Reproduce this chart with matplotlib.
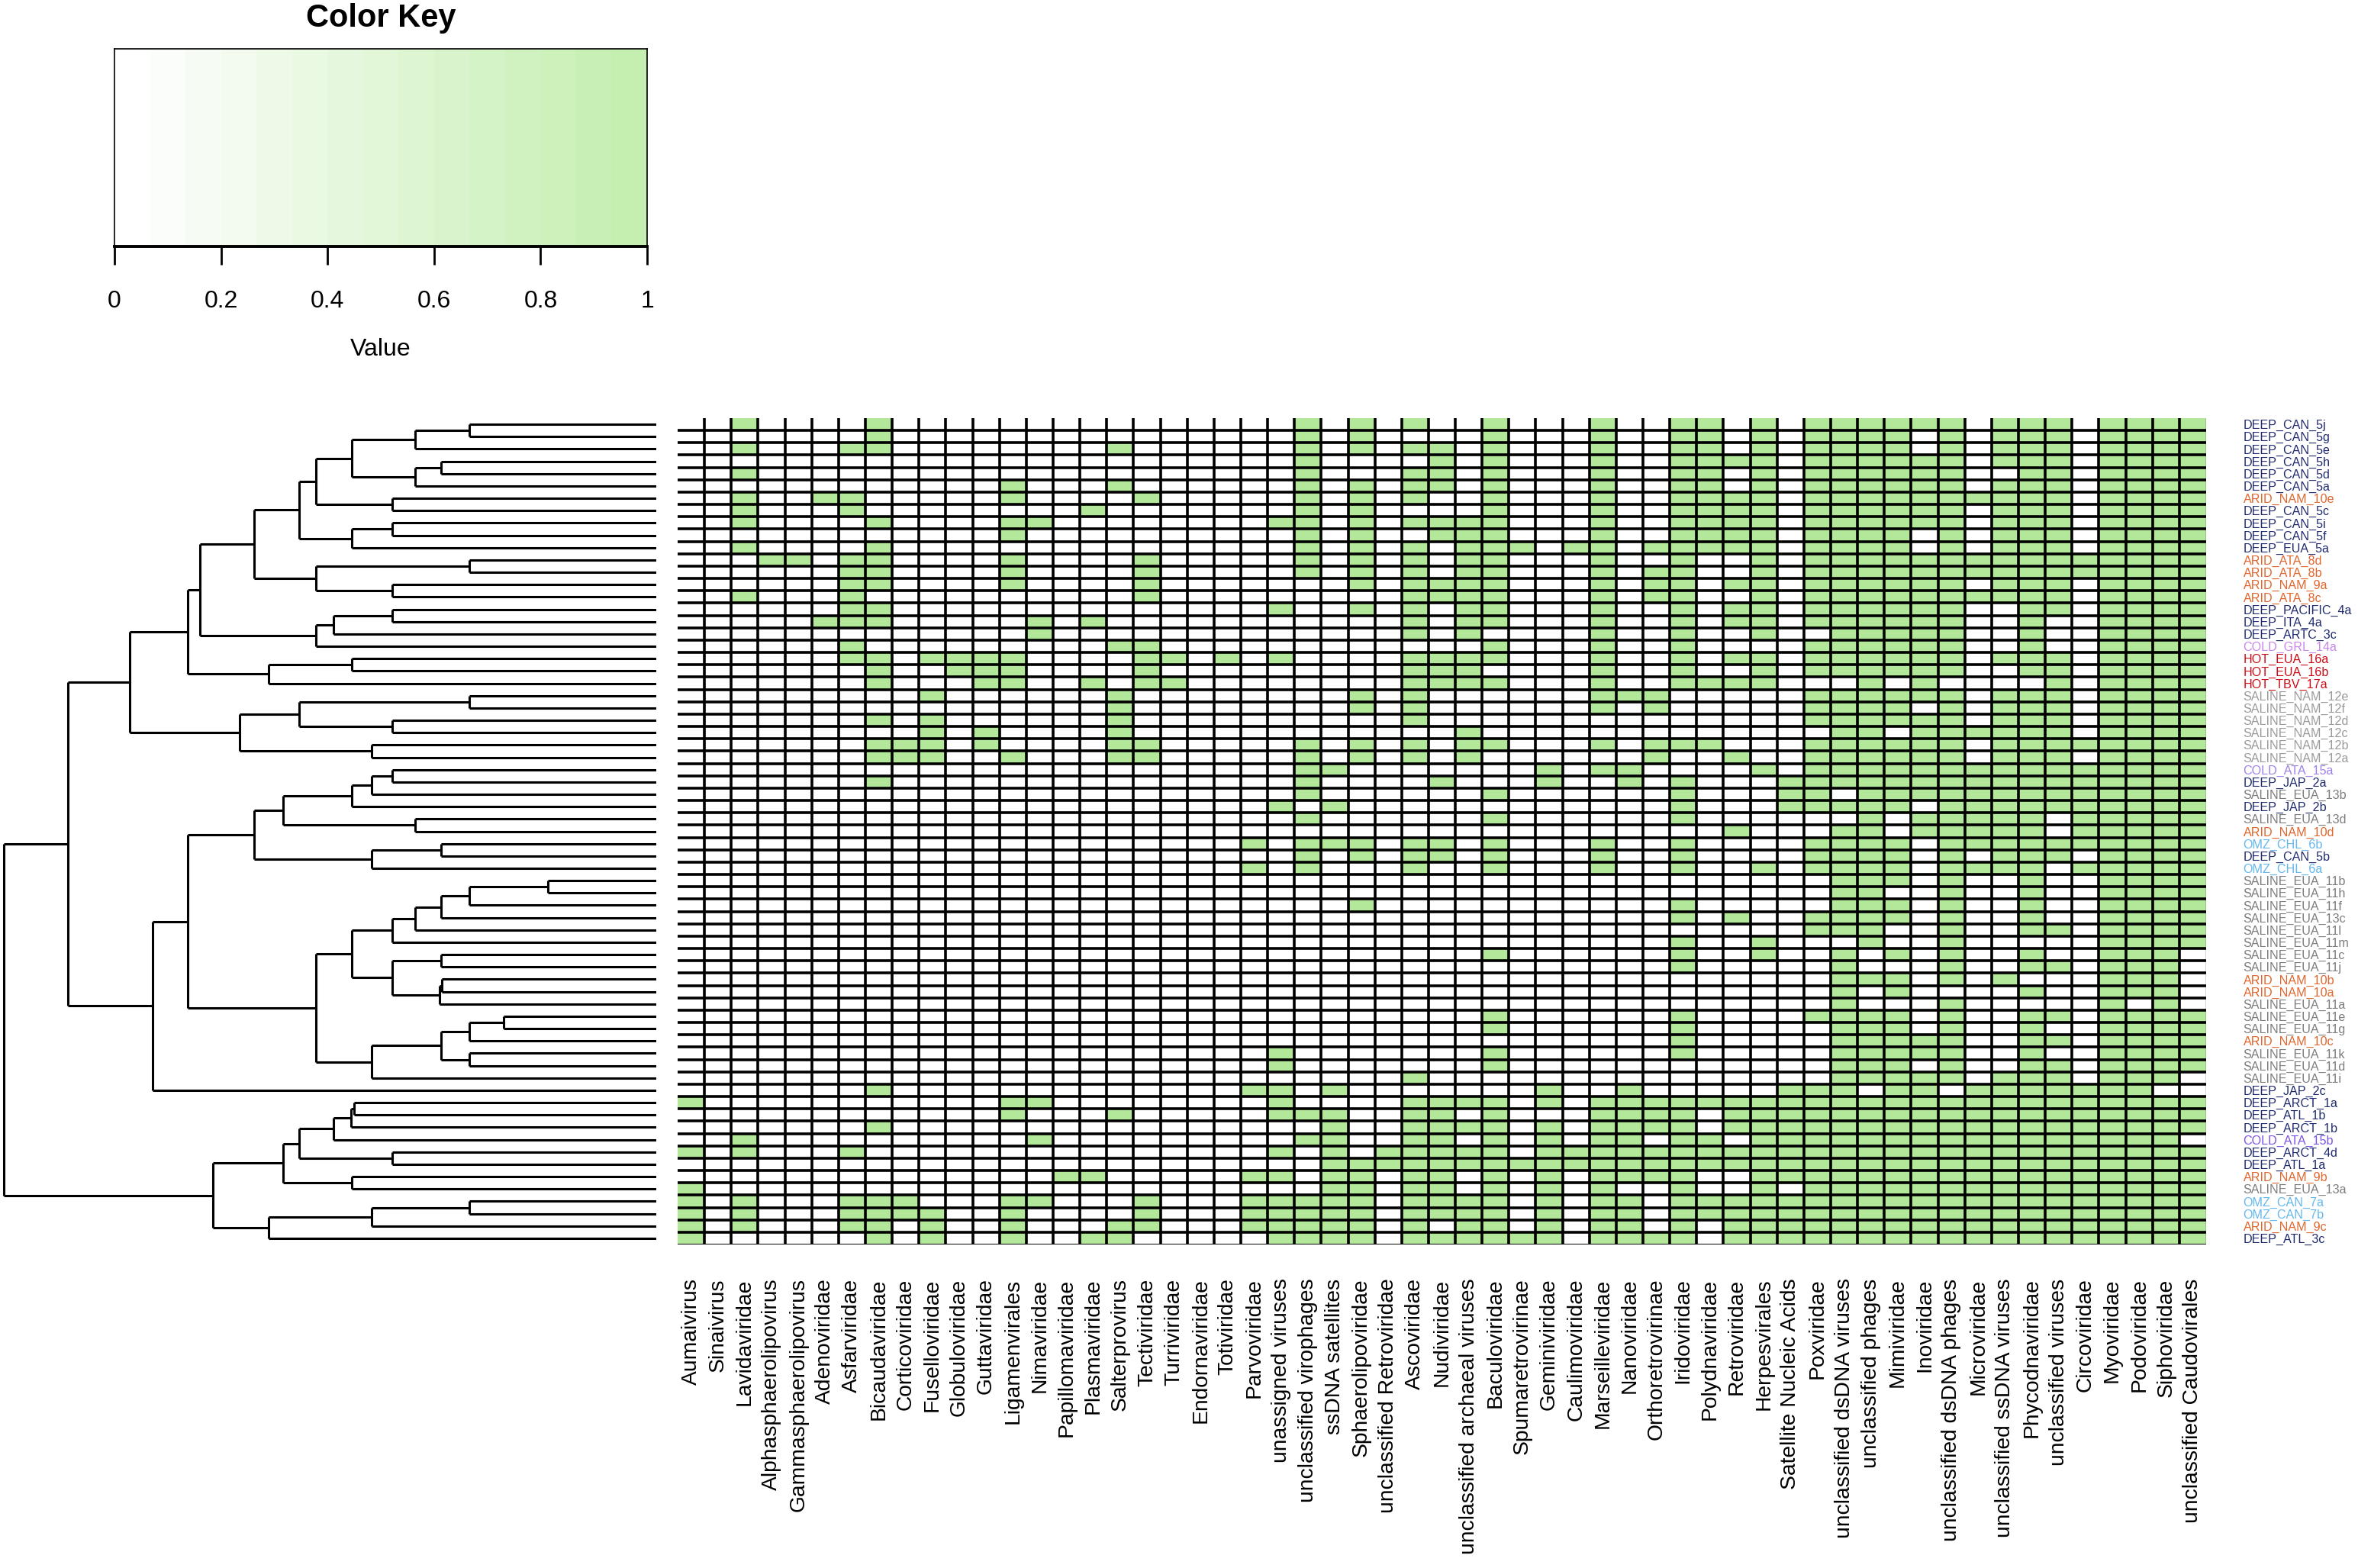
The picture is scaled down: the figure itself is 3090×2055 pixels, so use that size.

# Mapa de calor de presencia/ausencia de familias virales con dendrograma de muestras
import matplotlib.pyplot as plt
from matplotlib.colors import ListedColormap, LinearSegmentedColormap
import numpy as np

plt.rcParams['font.family'] = ['Liberation Sans', 'DejaVu Sans']

# Muestras (filas) en el orden del dendrograma
muestras = ["DEEP_CAN_5j", "DEEP_CAN_5g", "DEEP_CAN_5e", "DEEP_CAN_5h", "DEEP_CAN_5d",
            "DEEP_CAN_5a", "ARID_NAM_10e", "DEEP_CAN_5c", "DEEP_CAN_5i", "DEEP_CAN_5f",
            "DEEP_EUA_5a", "ARID_ATA_8d", "ARID_ATA_8b", "ARID_NAM_9a", "ARID_ATA_8c",
            "DEEP_PACIFIC_4a", "DEEP_ITA_4a", "DEEP_ARTC_3c", "COLD_GRL_14a", "HOT_EUA_16a",
            "HOT_EUA_16b", "HOT_TBV_17a", "SALINE_NAM_12e", "SALINE_NAM_12f", "SALINE_NAM_12d",
            "SALINE_NAM_12c", "SALINE_NAM_12b", "SALINE_NAM_12a", "COLD_ATA_15a", "DEEP_JAP_2a",
            "SALINE_EUA_13b", "DEEP_JAP_2b", "SALINE_EUA_13d", "ARID_NAM_10d", "OMZ_CHL_6b",
            "DEEP_CAN_5b", "OMZ_CHL_6a", "SALINE_EUA_11b", "SALINE_EUA_11h", "SALINE_EUA_11f",
            "SALINE_EUA_13c", "SALINE_EUA_11l", "SALINE_EUA_11m", "SALINE_EUA_11c", "SALINE_EUA_11j",
            "ARID_NAM_10b", "ARID_NAM_10a", "SALINE_EUA_11a", "SALINE_EUA_11e", "SALINE_EUA_11g",
            "ARID_NAM_10c", "SALINE_EUA_11k", "SALINE_EUA_11d", "SALINE_EUA_11i", "DEEP_JAP_2c",
            "DEEP_ARCT_1a", "DEEP_ATL_1b", "DEEP_ARCT_1b", "COLD_ATA_15b", "DEEP_ARCT_4d",
            "DEEP_ATL_1a", "ARID_NAM_9b", "SALINE_EUA_13a", "OMZ_CAN_7a", "OMZ_CAN_7b",
            "ARID_NAM_9c", "DEEP_ATL_3c"]

# Grupos virales (columnas)
virus = ["Aumaivirus", "Sinaivirus", "Lavidaviridae", "Alphasphaerolipovirus",
         "Gammasphaerolipovirus", "Adenoviridae", "Asfarviridae", "Bicaudaviridae",
         "Corticoviridae", "Fuselloviridae", "Globuloviridae", "Guttaviridae", "Ligamenvirales",
         "Nimaviridae", "Papillomaviridae", "Plasmaviridae", "Salterprovirus", "Tectiviridae",
         "Turriviridae", "Endornaviridae", "Totiviridae", "Parvoviridae", "unassigned viruses",
         "unclassified virophages", "ssDNA satellites", "Sphaerolipoviridae",
         "unclassified Retroviridae", "Ascoviridae", "Nudiviridae", "unclassified archaeal viruses",
         "Baculoviridae", "Spumaretrovirinae", "Geminiviridae", "Caulimoviridae", "Marseilleviridae",
         "Nanoviridae", "Orthoretrovirinae", "Iridoviridae", "Polydnaviridae", "Retroviridae",
         "Herpesvirales", "Satellite Nucleic Acids", "Poxviridae", "unclassified dsDNA viruses",
         "unclassified phages", "Mimiviridae", "Inoviridae", "unclassified dsDNA phages",
         "Microviridae", "unclassified ssDNA viruses", "Phycodnaviridae", "unclassified viruses",
         "Circoviridae", "Myoviridae", "Podoviridae", "Siphoviridae", "unclassified Caudovirales"]

# Columnas (empezando en 1) con presencia en cada muestra
presencia = [
    [3, 8, 24, 26, 28, 31, 35, 38, 39, 41, 43, 44, 45, 46, 47, 48, 50, 51, 52, 54, 55, 56, 57],
    [8, 24, 26, 31, 35, 38, 39, 41, 43, 44, 45, 46, 48, 50, 51, 52, 54, 55, 56, 57],
    [3, 7, 8, 17, 24, 26, 28, 29, 31, 35, 38, 39, 41, 43, 44, 45, 46, 48, 50, 51, 52, 54, 55, 56, 57],
    [24, 29, 31, 35, 38, 39, 40, 41, 43, 44, 45, 46, 47, 48, 50, 51, 52, 54, 55, 56, 57],
    [3, 24, 28, 29, 31, 35, 38, 39, 41, 43, 44, 45, 46, 47, 48, 51, 52, 54, 55, 56, 57],
    [13, 17, 24, 26, 28, 29, 31, 35, 38, 39, 41, 43, 44, 45, 46, 47, 48, 50, 51, 52, 54, 55, 56, 57],
    [3, 6, 7, 13, 18, 24, 26, 28, 31, 35, 38, 39, 40, 41, 43, 44, 45, 46, 47, 48, 49, 50, 51, 52, 54, 55, 56, 57],
    [3, 7, 16, 24, 26, 31, 35, 38, 39, 40, 41, 43, 44, 45, 46, 47, 48, 50, 51, 52, 54, 55, 56, 57],
    [3, 8, 13, 14, 23, 24, 26, 28, 29, 30, 31, 35, 38, 39, 40, 41, 43, 44, 45, 46, 47, 48, 50, 51, 52, 54, 55, 56, 57],
    [13, 24, 26, 29, 30, 31, 35, 38, 39, 40, 41, 43, 44, 45, 46, 48, 50, 51, 52, 54, 55, 56, 57],
    [3, 8, 24, 26, 28, 30, 31, 32, 34, 35, 37, 38, 39, 40, 41, 43, 44, 45, 46, 48, 50, 51, 52, 54, 55, 56, 57],
    [4, 5, 7, 8, 13, 18, 24, 26, 28, 30, 31, 35, 38, 41, 43, 44, 45, 46, 47, 48, 49, 50, 51, 52, 53, 54, 55, 56, 57],
    [7, 8, 13, 18, 24, 26, 28, 30, 31, 35, 37, 38, 41, 43, 44, 45, 46, 47, 48, 49, 50, 51, 52, 53, 54, 55, 56, 57],
    [7, 8, 13, 18, 26, 28, 29, 30, 31, 35, 37, 38, 40, 41, 43, 44, 45, 46, 47, 48, 50, 51, 52, 54, 55, 56, 57],
    [3, 7, 18, 28, 29, 30, 31, 35, 37, 38, 41, 43, 44, 45, 46, 47, 48, 49, 50, 51, 52, 54, 55, 56, 57],
    [7, 8, 23, 26, 28, 30, 31, 35, 38, 40, 41, 43, 44, 45, 46, 47, 48, 51, 52, 54, 55, 56, 57],
    [6, 7, 8, 14, 16, 28, 30, 31, 35, 38, 40, 41, 43, 44, 45, 46, 47, 48, 51, 54, 55, 56, 57],
    [14, 28, 30, 35, 38, 41, 44, 45, 46, 47, 48, 51, 54, 55, 56, 57],
    [7, 17, 18, 31, 35, 38, 43, 44, 45, 46, 47, 48, 51, 54, 55, 56, 57],
    [7, 8, 10, 11, 12, 13, 18, 19, 21, 23, 28, 29, 30, 31, 35, 38, 40, 41, 43, 44, 45, 46, 47, 48, 50, 51, 52, 54, 55, 56, 57],
    [8, 11, 12, 13, 18, 28, 29, 30, 35, 38, 41, 43, 44, 45, 46, 47, 48, 51, 52, 54, 55, 56, 57],
    [8, 12, 13, 16, 18, 19, 28, 29, 30, 31, 35, 38, 39, 40, 41, 45, 47, 52, 54, 55, 56, 57],
    [10, 17, 26, 28, 35, 36, 37, 43, 44, 45, 46, 47, 48, 50, 51, 52, 54, 55, 56, 57],
    [17, 26, 28, 35, 37, 43, 44, 45, 46, 48, 50, 51, 52, 54, 55, 56, 57],
    [8, 10, 17, 28, 43, 44, 45, 46, 47, 48, 50, 51, 52, 54, 55, 56, 57],
    [10, 12, 17, 30, 44, 45, 47, 48, 49, 50, 51, 52, 54, 55, 56, 57],
    [8, 9, 10, 12, 17, 18, 24, 26, 28, 30, 31, 35, 37, 38, 39, 43, 44, 45, 46, 47, 48, 50, 51, 52, 53, 54, 55, 56, 57],
    [8, 9, 10, 13, 17, 18, 24, 26, 28, 30, 37, 40, 43, 44, 45, 46, 47, 48, 50, 51, 52, 54, 55, 56, 57],
    [24, 25, 33, 35, 36, 41, 43, 44, 45, 46, 47, 48, 49, 50, 51, 52, 53, 54, 55, 56, 57],
    [8, 24, 29, 33, 36, 38, 42, 43, 44, 45, 46, 47, 48, 49, 50, 51, 52, 53, 54, 55, 56, 57],
    [24, 31, 38, 42, 43, 45, 46, 47, 48, 49, 50, 51, 52, 53, 54, 55, 56, 57],
    [23, 25, 38, 42, 43, 44, 45, 46, 48, 49, 50, 51, 52, 53, 54, 55, 56, 57],
    [24, 31, 38, 45, 47, 48, 49, 50, 51, 53, 54, 55, 56, 57],
    [40, 44, 45, 47, 48, 49, 50, 51, 53, 54, 55, 56, 57],
    [22, 24, 25, 26, 28, 29, 31, 35, 38, 43, 44, 45, 46, 48, 49, 50, 51, 52, 53, 54, 55, 56, 57],
    [24, 26, 28, 29, 31, 35, 38, 43, 44, 45, 46, 48, 50, 51, 52, 54, 55, 56, 57],
    [22, 24, 28, 31, 35, 38, 41, 43, 44, 45, 46, 48, 49, 50, 51, 53, 54, 55, 56, 57],
    [44, 45, 46, 48, 51, 54, 55, 56, 57],
    [44, 45, 48, 51, 54, 55, 56, 57],
    [26, 38, 44, 45, 46, 48, 51, 54, 55, 56, 57],
    [38, 40, 43, 44, 45, 46, 48, 51, 54, 55, 56, 57],
    [43, 44, 45, 48, 51, 52, 54, 55, 56, 57],
    [38, 41, 45, 48, 54, 55, 56, 57],
    [31, 38, 41, 44, 46, 48, 51, 54, 55, 56],
    [38, 44, 48, 51, 52, 54, 55, 56],
    [44, 45, 46, 48, 50, 54, 55, 56],
    [44, 46, 51, 54, 55, 56],
    [44, 48, 54, 56],
    [31, 38, 43, 44, 45, 46, 48, 51, 52, 54, 55, 56, 57],
    [31, 38, 44, 45, 46, 48, 51, 54, 55, 56, 57],
    [38, 44, 45, 46, 47, 48, 51, 52, 54, 55, 56, 57],
    [23, 31, 38, 44, 45, 46, 47, 48, 51, 54, 55, 56, 57],
    [23, 31, 44, 45, 46, 48, 51, 52, 54, 55, 56, 57],
    [28, 44, 45, 46, 47, 48, 50, 51, 52, 54, 55, 56],
    [8, 22, 23, 25, 33, 36, 42, 43, 44, 46, 47, 49, 50, 51, 52, 53, 54, 55],
    [1, 13, 14, 23, 28, 29, 30, 31, 33, 35, 36, 37, 38, 39, 40, 41, 42, 43, 44, 45, 46, 47, 48, 49, 50, 51, 52, 53, 54, 55, 56, 57],
    [13, 17, 23, 24, 25, 28, 29, 31, 35, 36, 37, 38, 40, 41, 42, 43, 44, 45, 46, 47, 48, 49, 50, 51, 52, 53, 54, 55, 56, 57],
    [8, 25, 28, 29, 30, 31, 33, 35, 36, 37, 38, 40, 41, 42, 43, 44, 45, 46, 47, 48, 49, 50, 51, 52, 53, 54, 55, 56, 57],
    [3, 14, 24, 25, 28, 29, 31, 33, 35, 36, 38, 39, 41, 42, 43, 44, 45, 46, 47, 48, 49, 50, 51, 52, 53, 54, 55, 56],
    [1, 3, 7, 23, 25, 27, 28, 29, 30, 31, 33, 34, 35, 36, 37, 38, 39, 40, 41, 42, 43, 44, 45, 46, 47, 48, 49, 50, 51, 52, 53, 54, 55, 56, 57],
    [25, 26, 27, 28, 29, 30, 31, 32, 33, 34, 35, 36, 37, 38, 39, 40, 41, 42, 43, 44, 45, 46, 47, 48, 49, 50, 51, 52, 53, 54, 55, 56, 57],
    [15, 16, 22, 23, 25, 26, 28, 29, 31, 33, 35, 36, 37, 38, 41, 42, 43, 44, 45, 46, 47, 48, 49, 50, 51, 52, 53, 54, 55, 56, 57],
    [1, 25, 26, 28, 29, 31, 33, 35, 38, 41, 43, 44, 45, 46, 47, 48, 49, 50, 51, 52, 53, 54, 55, 56, 57],
    [1, 3, 7, 8, 9, 13, 14, 18, 22, 23, 24, 25, 26, 28, 29, 30, 31, 33, 35, 36, 38, 39, 40, 41, 42, 43, 44, 45, 46, 47, 48, 49, 50, 51, 52, 53, 54, 55, 56, 57],
    [1, 3, 7, 8, 9, 10, 13, 18, 22, 23, 24, 25, 26, 28, 29, 30, 31, 33, 35, 36, 38, 39, 40, 41, 42, 43, 44, 45, 46, 47, 48, 49, 50, 51, 52, 53, 54, 55, 56, 57],
    [1, 3, 7, 8, 10, 13, 17, 18, 22, 23, 24, 25, 26, 28, 30, 31, 33, 35, 36, 38, 40, 41, 42, 43, 44, 45, 46, 47, 48, 49, 50, 51, 52, 53, 54, 55, 56, 57],
    [1, 8, 10, 13, 16, 17, 23, 24, 25, 26, 28, 29, 30, 31, 32, 33, 35, 36, 37, 38, 40, 41, 42, 43, 44, 45, 46, 47, 48, 49, 50, 51, 52, 53, 54, 55, 56, 57],
]

# Uniones del dendrograma (nodo_a, nodo_b, altura); hojas 0-66, nodos nuevos desde 67
uniones = [
    (0, 1, 435), (67, 2, 560), (3, 4, 500), (69, 5, 560), (68, 70, 707),
    (6, 7, 613), (71, 72, 790), (8, 9, 613), (74, 10, 707), (73, 75, 830),
    (11, 12, 435), (13, 14, 613), (77, 78, 790), (76, 79, 935), (15, 16, 613),
    (81, 17, 750), (82, 18, 790), (80, 83, 1060), (19, 20, 707), (85, 21, 900),
    (84, 86, 1088), (22, 23, 435), (24, 25, 613), (88, 89, 830), (26, 27, 662),
    (90, 91, 968), (87, 92, 1224), (28, 29, 613), (94, 30, 662), (95, 31, 707),
    (32, 33, 560), (96, 97, 867), (34, 35, 500), (99, 36, 662), (98, 100, 935),
    (37, 38, 252), (102, 39, 435), (103, 40, 500), (104, 41, 560), (105, 42, 613),
    (43, 44, 500), (45, 46, 498), (108, 47, 503), (107, 109, 613), (106, 110, 707),
    (48, 49, 355), (112, 50, 435), (51, 52, 435), (113, 114, 500), (115, 53, 662),
    (111, 116, 790), (101, 117, 1088), (118, 54, 1171), (93, 119, 1368), (55, 56, 703),
    (121, 57, 709), (122, 58, 750), (59, 60, 613), (123, 124, 830), (61, 62, 707),
    (125, 126, 867), (63, 64, 435), (128, 65, 662), (129, 66, 900), (127, 130, 1030),
    (120, 131, 1517),
]

# Colores de las etiquetas segun el ambiente
color_grupo = {"DEEP": "#1f2a6e", "ARID": "#e2652b", "HOT": "#cc0b16", "OMZ": "#62b7ee",
               "SALINE_NAM": "#9a9a9a", "SALINE_EUA": "#7c7c7c"}
color_especial = {"COLD_GRL_14a": "#c985ec", "COLD_ATA_15a": "#9d80ea", "COLD_ATA_15b": "#7b52e6"}

verde = "#b3e89a"

def f_color(nombre):
    if nombre in color_especial:
        return color_especial[nombre]
    if nombre.startswith("SALINE"):
        return color_grupo[nombre[:10]]
    return color_grupo[nombre.split("_")[0]]

# Matriz de presencia
nFil = len(muestras)
nCol = len(virus)
matriz = np.zeros((nFil, nCol))
for i, cols in enumerate(presencia):
    matriz[i, np.array(cols) - 1] = 1

# Posiciones en pixeles de la figura
W, H = 3090, 2055
def caja(x0, y0, x1, y1):
    return [x0 / W, 1 - y1 / H, (x1 - x0) / W, (y1 - y0) / H]

fig = plt.figure(figsize=(W / 200, H / 200), dpi=200)

# Mapa de calor
ax = fig.add_axes(caja(888, 548, 2891, 1631))
ax.imshow(matriz, cmap=ListedColormap(["white", verde]), vmin=0, vmax=1,
          extent=(0, nCol, nFil, 0), aspect="auto", interpolation="nearest")
ax.hlines(np.arange(1, nFil), 0, nCol, color="black", lw=1.3)
ax.hlines([nFil], 0, nCol, color="black", lw=0.7)
ax.vlines(np.arange(1, nCol), 0, nFil, color="black", lw=1.3)
ax.vlines([nCol], 0, nFil, color="#333333", lw=0.5)
ax.set_xlim(0, nCol)
ax.set_ylim(nFil, 0)
for s in ax.spines.values():
    s.set_visible(False)
ax.set_xticks(np.arange(nCol) + 0.5)
ax.set_xticklabels(virus, rotation=90, fontsize=10.2)
ax.tick_params(axis="x", length=0, pad=16)
ax.yaxis.tick_right()
ax.set_yticks(np.arange(nFil) + 0.5)
ax.set_yticklabels(muestras, fontsize=5.8)
ax.tick_params(axis="y", length=0, pad=17.5)
for etiqueta, nombre in zip(ax.get_yticklabels(), muestras):
    etiqueta.set_color(f_color(nombre))

# Dendrograma de filas
axd = fig.add_axes(caja(0, 548, 860, 1631))
pos = {i: i + 0.5 for i in range(nFil)}
alt = {i: 0.0 for i in range(nFil)}
for k, (a, b, h) in enumerate(uniones):
    for c in (a, b):
        axd.plot([alt[c], h], [pos[c], pos[c]], color="black", lw=1.1, solid_capstyle="butt")
    axd.plot([h, h], [pos[a], pos[b]], color="black", lw=1.1, solid_capstyle="butt")
    pos[nFil + k] = (pos[a] + pos[b]) / 2
    alt[nFil + k] = h
axd.set_xlim(1525, 0)
axd.set_ylim(nFil, 0)
axd.axis("off")

# Llave de color
axk = fig.add_axes(caja(150, 64, 848, 323))
llave = LinearSegmentedColormap.from_list("llave", ["white", "#c4efb0"], N=15)
axk.imshow(np.linspace(0, 1, 300)[None, :], cmap=llave, extent=(0, 1, 0, 1),
           aspect="auto", interpolation="nearest")
axk.set_xlim(0, 1)
axk.set_ylim(0, 1)
axk.set_yticks([])
axk.set_xticks([0, 0.2, 0.4, 0.6, 0.8, 1])
axk.set_xticklabels(["0", "0.2", "0.4", "0.6", "0.8", "1"], fontsize=11.5)
axk.tick_params(axis="x", length=8.5, width=1.0, pad=12)
for s in ["top", "left", "right"]:
    axk.spines[s].set_linewidth(0.6)
axk.spines["bottom"].set_linewidth(1.4)
axk.set_xlabel("Value", fontsize=11.5, labelpad=12)
fig.text(499 / W, 1 - 24 / H, "Color Key", ha="center", va="center",
         fontsize=15, fontweight="bold")

plt.savefig("out.png", dpi=200)
